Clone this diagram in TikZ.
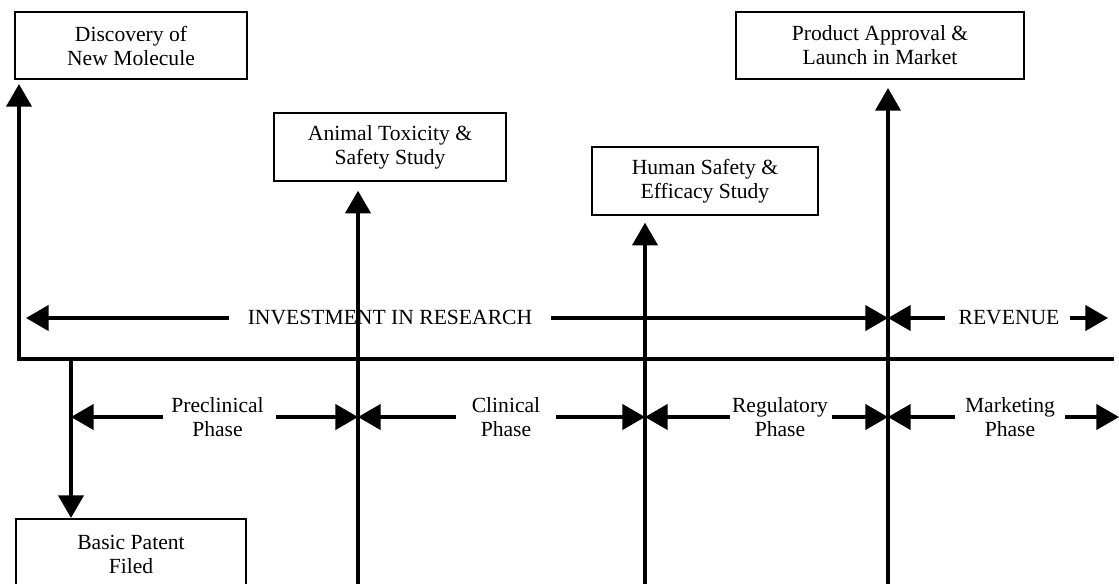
\documentclass[tikz,border=0pt]{standalone}
\usepackage{fontspec}
\setmainfont{Liberation Serif}
\usetikzlibrary{arrows.meta}
\begin{document}
\begin{tikzpicture}[x=0.75pt,y=-0.75pt,
  box/.style={draw, line width=1.6pt, align=center, inner sep=0pt, font=\fontsize{16.2}{18}\selectfont},
  lbl/.style={align=center, inner sep=0pt, font=\fontsize{16.2}{18}\selectfont},
  ln/.style={line width=2.4pt},
  arr/.style={ln, -{Triangle[length=17pt,width=19pt]}},
]
\useasboundingbox (0,0) rectangle (1119,583);
\clip (0,0) rectangle (1119,583);

% boxes
\node[box, minimum width=174pt, minimum height=50.25pt] (disc) at (131,45.5) {Discovery of\\New Molecule};
\node[box, minimum width=216pt, minimum height=50.25pt] (prod) at (880,45.5) {Product Approval \&\\Launch in Market};
\node[box, minimum width=174pt, minimum height=51pt] (anim) at (390,147) {Animal Toxicity \&\\Safety Study};
\node[box, minimum width=169.5pt, minimum height=51pt] (human) at (705,181) {Human Safety \&\\Efficacy Study};
\node[box, minimum width=172.5pt, minimum height=53.25pt] (patent) at (131,554.5) {Basic Patent\\Filed};

% axis and verticals
\coordinate (axL) at (19,359);
\coordinate (axR) at (1114,359);
\coordinate (pt) at (71,359);
\coordinate (b1) at (358,592);
\coordinate (b2) at (645,592);
\coordinate (b3) at (888,592);

\draw[arr, line join=miter, shorten >=3pt] (axR) -- (axL) -- (axL |- disc.south);
\draw[arr, shorten >=6.5pt] (b1) -- (anim.south -| b1);
\draw[arr, shorten >=5pt] (b2) -- (human.south -| b2);
\draw[arr, shorten >=6pt] (b3) -- (prod.south -| b3);
\draw[arr] (pt) -- (patent.north -| pt);

% investment / revenue
\node[lbl] (inv) at (390,318) {INVESTMENT IN RESEARCH};
\coordinate (invL) at (26,318);
\draw[arr, shorten <=14pt] (inv.west) -- (invL);
\draw[arr, shorten <=14pt] (inv.east) -- (b3 |- inv);

\node[lbl] (rev) at (1009,318) {REVENUE};
\coordinate (revR) at (1108,318);
\draw[arr, shorten <=10pt] (rev.west) -- (b3 |- rev);
\draw[arr, shorten <=8pt] (rev.east) -- (revR);

% phases
\node[lbl] (pre) at (217.5,417) {Preclinical\\Phase};
\draw[arr, shorten <=6pt] (pre.west) -- (pt |- pre);
\draw[arr, shorten <=9pt] (pre.east) -- (b1 |- pre);

\node[lbl] (cli) at (506,417) {Clinical\\Phase};
\draw[arr, shorten <=12pt] (cli.west) -- (b1 |- cli);
\draw[arr, shorten <=12pt] (cli.east) -- (b2 |- cli);

\node[lbl] (reg) at (780,417) {Regulatory\\Phase};
\draw[arr, shorten <=1.5pt] (reg.west) -- (b2 |- reg);
\draw[arr, shorten <=3pt] (reg.east) -- (b3 |- reg);

\node[lbl] (mkt) at (1010,417) {Marketing\\Phase};
\coordinate (mktR) at (1119,417);
\draw[arr, shorten <=7.5pt] (mkt.west) -- (b3 |- mkt);
\draw[arr, shorten <=7.5pt] (mkt.east) -- (mktR);
\end{tikzpicture}
\end{document}
